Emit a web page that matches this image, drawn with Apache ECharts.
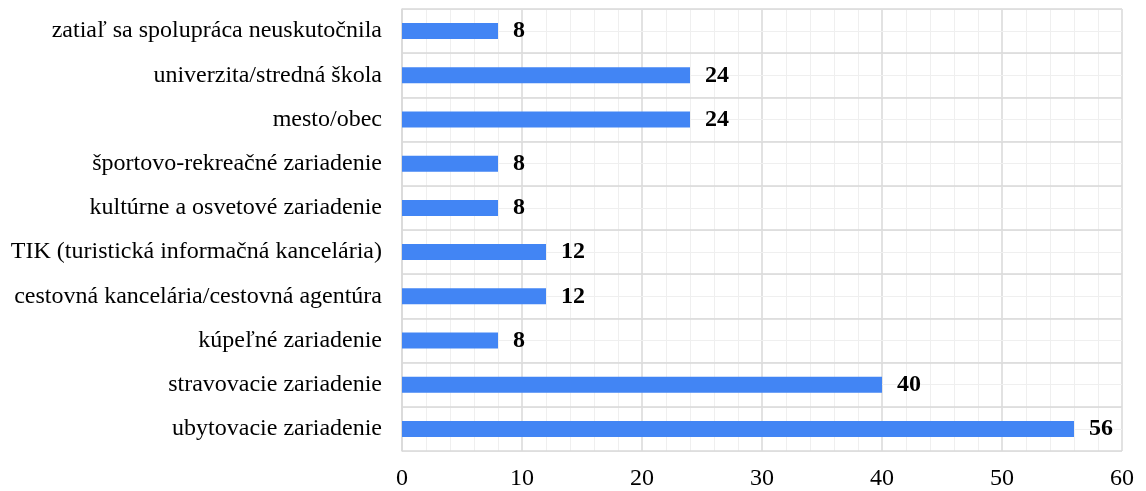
<!DOCTYPE html>
<html>
<head>
<meta charset="utf-8">
<script src="https://cdn.jsdelivr.net/npm/echarts@6/dist/echarts.min.js"></script>
<style>
  html, body { margin: 0; padding: 0; background: #fff; }
  #chart { width: 1146px; height: 491px; }
</style>
</head>
<body>
<div id="chart"></div>
<script>
// categories top to bottom
var categories = [
  'zatiaľ sa spolupráca neuskutočnila',
  'univerzita/stredná škola',
  'mesto/obec',
  'športovo-rekreačné zariadenie',
  'kultúrne a osvetové zariadenie',
  'TIK (turistická informačná kancelária)',
  'cestovná kancelária/cestovná agentúra',
  'kúpeľné zariadenie',
  'stravovacie zariadenie',
  'ubytovacie zariadenie'
];
var values = [8, 24, 24, 8, 8, 12, 12, 8, 40, 56];
var xTicks = [0, 10, 20, 30, 40, 50, 60];

var font = '"Liberation Serif", "Times New Roman", serif';
var major = '#d9d9d9';
var minor = '#efefef';

var chart = echarts.init(document.getElementById('chart'));
chart.setOption({
  animation: false,
  grid: { left: 402, right: 24, top: 9, bottom: 40 },
  xAxis: {
    type: 'value',
    min: xTicks[0],
    max: xTicks[xTicks.length - 1],
    interval: 10,
    axisLine: { show: false },
    axisTick: { show: false },
    axisLabel: { color: '#000', fontFamily: font, fontSize: 24, margin: 16 },
    splitLine: { show: true, lineStyle: { color: major, width: 1.5 } },
    minorTick: { show: false, splitNumber: 5 },
    minorSplitLine: { show: true, lineStyle: { color: minor, width: 1 } }
  },
  yAxis: [
    {
      type: 'category',
      data: categories,
      inverse: true,
      axisLine: { show: true, lineStyle: { color: major, width: 1.5 } },
      axisTick: { show: false },
      axisLabel: { color: '#000', fontFamily: font, fontSize: 24, margin: 20 },
      splitLine: { show: true, lineStyle: { color: major, width: 1.5 } },
      z: 3
    },
    {
      // helper axis for the light lines through category centres
      type: 'value',
      min: 0,
      max: categories.length * 2,
      interval: 1,
      position: 'right',
      axisLine: { show: false },
      axisTick: { show: false },
      axisLabel: { show: false },
      splitLine: { show: true, lineStyle: { color: minor, width: 1 } },
      z: 1
    }
  ],
  series: [{
    type: 'bar',
    data: values,
    barWidth: 16,
    itemStyle: { color: '#4285f4' },
    label: {
      show: true,
      position: 'right',
      distance: 15,
      color: '#000',
      fontFamily: font,
      fontSize: 24,
      fontWeight: 'bold'
    },
    z: 5
  }]
});
</script>
</body>
</html>
